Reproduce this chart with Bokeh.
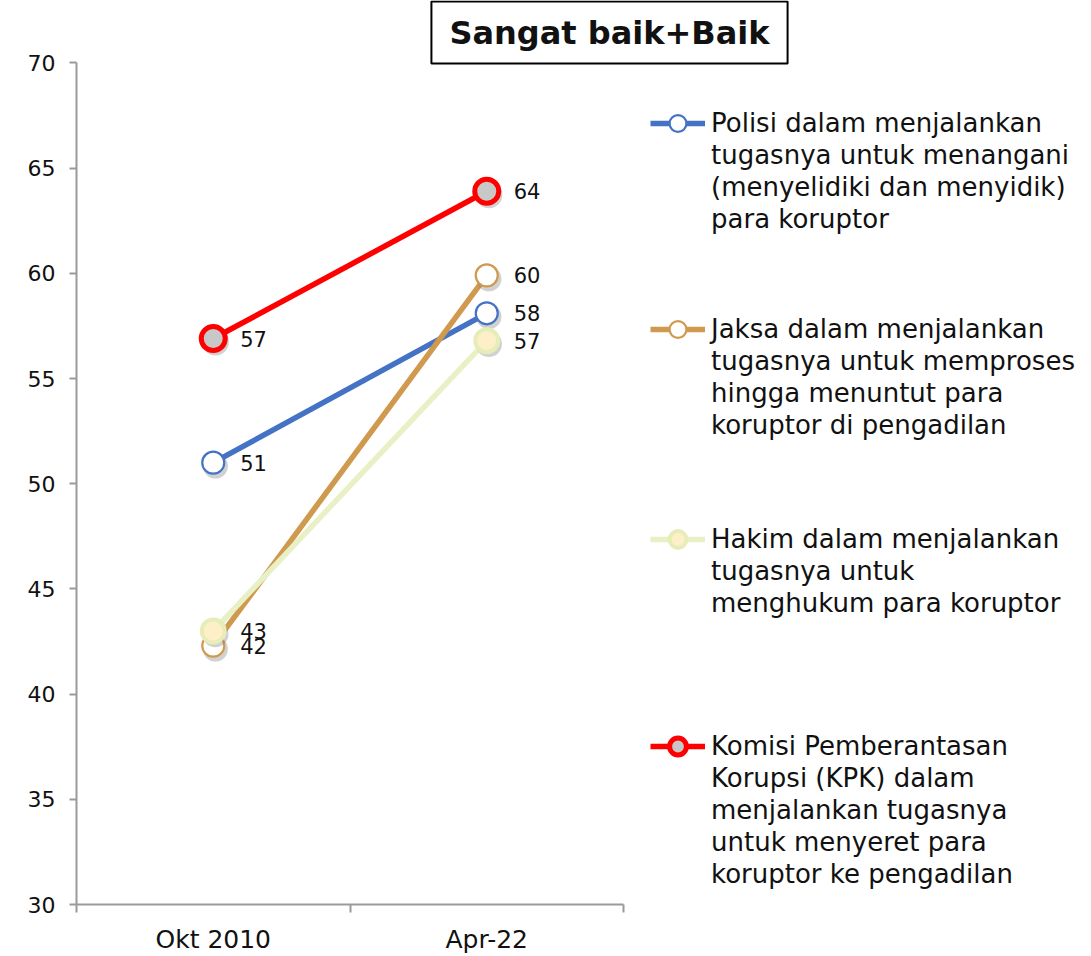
from bokeh.plotting import figure
from bokeh.models import (ColumnDataSource, Legend, LegendItem, Label, FixedTicker, Range1d)
from bokeh.core.properties import value
from bokeh.transform import dodge
from bokeh.embed import file_html
from bokeh.resources import INLINE

# ---------------- data ----------------
periods = ["Okt 2010", "Apr-22"]
polisi = [51.0, 58.1]
jaksa = [42.3, 59.9]
hakim = [43.0, 56.8]
kpk = [56.9, 63.9]
y_ticks = [30, 35, 40, 45, 50, 55, 60, 65, 70]

series_names = [
    ["Polisi dalam menjalankan", "tugasnya untuk menangani",
     "(menyelidiki dan menyidik)", "para koruptor"],
    ["Jaksa dalam menjalankan", "tugasnya untuk memproses",
     "hingga menuntut para", "koruptor di pengadilan"],
    ["Hakim dalam menjalankan", "tugasnya untuk",
     "menghukum para koruptor"],
    ["Komisi Pemberantasan", "Korupsi (KPK) dalam",
     "menjalankan tugasnya", "untuk menyeret para", "koruptor ke pengadilan"],
]
title_text = "Sangat baik+Baik"

# ---------------- layout constants (pixels) ----------------
W, H = 1083, 956
AX_LEFT, AX_RIGHT = 76, 623          # x-axis extent on page
Y70, Y30 = 62.5, 905                 # y pixel of 70 and 30
legend_first_line = [124, 330, 540, 747]
ROW = 32
GLYPH_H = 42
LEGEND_X = 650
FONT = "DejaVu Sans"

ymin, ymax = y_ticks[0], y_ticks[-1]
x_end = len(periods) * (W - AX_LEFT) / (AX_RIGHT - AX_LEFT)
y_end = ymin + (ymax - ymin) * Y30 / (Y30 - Y70)

xs = [i + 0.5 for i in range(len(periods))]

p = figure(width=W, height=H, output_backend="svg", toolbar_location=None,
           x_range=Range1d(0, x_end), y_range=Range1d(ymin, y_end),
           min_border_left=AX_LEFT, min_border_right=0, min_border_top=0,
           min_border_bottom=H - int(Y30))
p.outline_line_color = None
p.grid.visible = False
p.background_fill_color = "white"
p.border_fill_color = "white"

# axes
p.yaxis.bounds = (ymin, ymax)
p.xaxis.bounds = (0, len(periods))
p.yaxis.ticker = FixedTicker(ticks=y_ticks, minor_ticks=[])
p.yaxis.major_tick_out = 7
p.yaxis.major_tick_in = 0
p.yaxis.major_label_standoff = 14
p.xaxis.ticker = FixedTicker(ticks=xs, minor_ticks=list(range(len(periods) + 1)))
p.xaxis.major_label_overrides = {x: lab for x, lab in zip(xs, periods)}
p.xaxis.minor_tick_out = 8
p.xaxis.minor_tick_in = 0
p.xaxis.major_label_standoff = 12
for ax in (p.xaxis, p.yaxis):
    ax.axis_line_color = "#9a9a9a"
    ax.axis_line_width = 2
    ax.minor_tick_line_color = "#9a9a9a"
    ax.major_tick_line_width = 2
    ax.minor_tick_line_width = 2
    ax.major_label_text_font = FONT
    ax.major_label_text_color = "#111111"
p.yaxis.major_tick_line_color = "#9a9a9a"
p.xaxis.major_tick_line_color = None
p.yaxis.major_label_text_font_size = "22px"
p.xaxis.major_label_text_font_size = "25px"

styles = [
    dict(line="#4472C4", fill="white", outline="#4472C4", mlw=2.2, size=22),
    dict(line="#CF9A4E", fill="white", outline="#CF9A4E", mlw=2.2, size=22),
    dict(line="#E8F0C6", fill="#FDF0C9", outline="#E6EDB8", mlw=4, size=23),
    dict(line="#FF0000", fill="#C8C8C8", outline="#FF0000", mlw=5, size=24),
]
data = [polisi, jaksa, hakim, kpk]

dummy = p.line(x=[], y=[], line_alpha=0)

legend_style = dict(orientation="vertical", padding=0, margin=0,
                    border_line_color=None, background_fill_alpha=0,
                    glyph_width=55, label_standoff=6, spacing=0,
                    label_text_font=FONT, label_text_font_size="26px",
                    label_text_color="#111111", label_text_baseline="middle")

for vals, st, lines, c in zip(data, styles, series_names, legend_first_line):
    src = ColumnDataSource(dict(x=xs, y=vals, lab=[str(round(v)) for v in vals]))
    r1 = p.line("x", "y", source=src, line_color=st["line"], line_width=5.5)
    p.scatter(dodge("x", 0.008), dodge("y", -0.16), source=src, size=st["size"] + 3,
              fill_color="#7a7a7a", fill_alpha=0.35, line_color=None)
    r2 = p.scatter("x", "y", source=src, size=st["size"], fill_color=st["fill"],
                   line_color=st["outline"], line_width=st["mlw"])
    p.text("x", "y", text="lab", source=src, x_offset=27, text_baseline="middle",
           text_align="left", text_font=value(FONT), text_font_size="21px",
           text_color="#111111")
    # first line with the series glyph
    lg1 = Legend(items=[LegendItem(label=lines[0], renderers=[r1, r2])],
                 location=(LEGEND_X - AX_LEFT, Y30 - (c + GLYPH_H / 2)),
                 glyph_height=GLYPH_H, label_height=GLYPH_H, **legend_style)
    p.add_layout(lg1, "center")
    # remaining lines of the label
    rest = lines[1:]
    lg2 = Legend(items=[LegendItem(label=t, renderers=[dummy]) for t in rest],
                 location=(LEGEND_X - AX_LEFT, Y30 - (c + ROW / 2 + ROW * len(rest))),
                 glyph_height=ROW, label_height=ROW, **legend_style)
    p.add_layout(lg2, "center")

title = Label(x=(432 + 786) / 2 - AX_LEFT, y=Y30 - 33, x_units="screen", y_units="screen",
              text=title_text, text_align="center", text_baseline="middle",
              text_font=FONT, text_font_size="32px", text_font_style="bold",
              text_color="#111111", border_line_color="black", border_line_width=2,
              background_fill_color="white", padding=(18, 12))
p.add_layout(title)

open("out.html", "w").write(file_html(p, INLINE))
